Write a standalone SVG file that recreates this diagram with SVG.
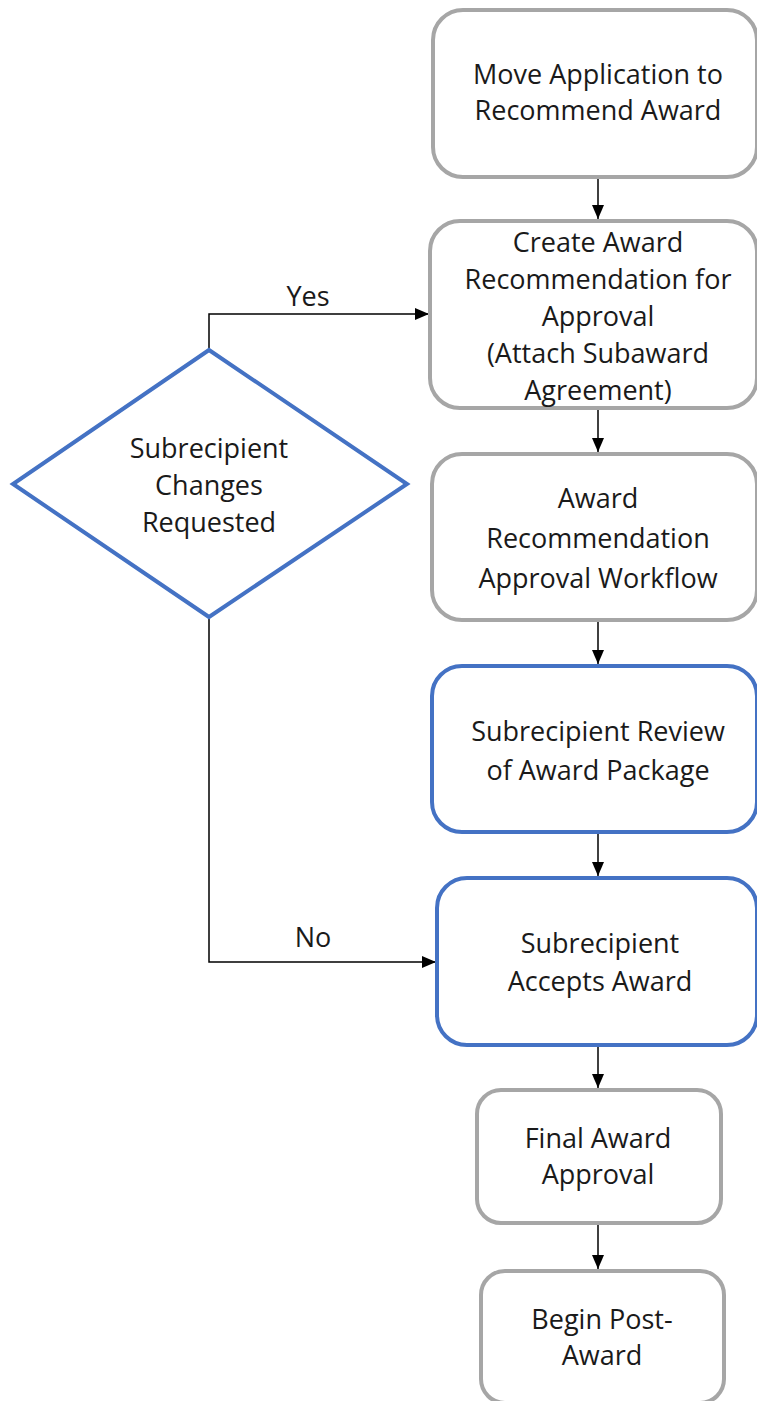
<svg xmlns="http://www.w3.org/2000/svg" width="757" height="1401" viewBox="0 0 757 1401">
<style>
.gray{fill:#fff;stroke:#A6A6A6;stroke-width:4}
.blue{fill:#fff;stroke:#4472C4;stroke-width:4}
.t{font-family:"Open Sans","Liberation Sans",sans-serif;font-size:27px;fill:#1a1a1a;text-anchor:middle;dominant-baseline:central}
.c{fill:none;stroke:#000;stroke-width:1.5}
</style>
<defs>
<marker id="ah" markerWidth="14" markerHeight="12" refX="14" refY="6" orient="auto" markerUnits="userSpaceOnUse">
<path d="M0,0 L14,6 L0,12 Z" fill="#000"/>
</marker>
</defs>
<rect width="757" height="1401" fill="#fff"/>
<g id="connectors">
<line class="c" x1="598" y1="179" x2="598" y2="219" marker-end="url(#ah)"/>
<line class="c" x1="598" y1="410" x2="598" y2="452" marker-end="url(#ah)"/>
<line class="c" x1="598" y1="622" x2="598" y2="664" marker-end="url(#ah)"/>
<line class="c" x1="598" y1="834" x2="598" y2="876" marker-end="url(#ah)"/>
<line class="c" x1="598" y1="1047" x2="598" y2="1088" marker-end="url(#ah)"/>
<line class="c" x1="598" y1="1225" x2="598" y2="1269" marker-end="url(#ah)"/>
<polyline class="c" points="209,349 209,314 429,314" marker-end="url(#ah)"/>
<polyline class="c" points="209,619 209,962 436,962" marker-end="url(#ah)"/>
<text class="t" x="308" y="295">Yes</text>
<text class="t" x="313" y="936">No</text>
</g>
<g id="n1">
<rect class="gray" x="433" y="10" width="324" height="167" rx="30"/>
<text class="t" x="598" y="73">Move Application to</text>
<text class="t" x="598" y="109">Recommend Award</text>
</g>
<g id="n2">
<rect class="gray" x="430" y="221" width="327" height="187" rx="30"/>
<text class="t" x="598" y="241">Create Award</text>
<text class="t" x="598" y="278">Recommendation for</text>
<text class="t" x="598" y="315">Approval</text>
<text class="t" x="598" y="352">(Attach Subaward</text>
<text class="t" x="598" y="389">Agreement)</text>
</g>
<g id="n3">
<rect class="gray" x="432" y="454" width="325" height="166" rx="30"/>
<text class="t" x="598" y="497">Award</text>
<text class="t" x="598" y="537">Recommendation</text>
<text class="t" x="598" y="577">Approval Workflow</text>
</g>
<g id="n4">
<rect class="blue" x="432" y="666" width="325" height="166" rx="30"/>
<text class="t" x="598" y="730">Subrecipient Review</text>
<text class="t" x="598" y="769">of Award Package</text>
</g>
<g id="n5">
<rect class="blue" x="437" y="878" width="320" height="167" rx="30"/>
<text class="t" x="600" y="942">Subrecipient</text>
<text class="t" x="600" y="980">Accepts Award</text>
</g>
<g id="n6">
<rect class="gray" x="477" y="1090" width="244" height="133" rx="24"/>
<text class="t" x="598" y="1137">Final Award</text>
<text class="t" x="598" y="1173">Approval</text>
</g>
<g id="n7">
<rect class="gray" x="481" y="1271" width="243" height="132" rx="24"/>
<text class="t" x="602" y="1318">Begin Post-</text>
<text class="t" x="602" y="1354">Award</text>
</g>
<g id="d1">
<polygon class="blue" points="209,350 407,484 209,617 13,484"/>
<text class="t" x="209" y="447">Subrecipient</text>
<text class="t" x="209" y="484">Changes</text>
<text class="t" x="209" y="521">Requested</text>
</g>
</svg>
